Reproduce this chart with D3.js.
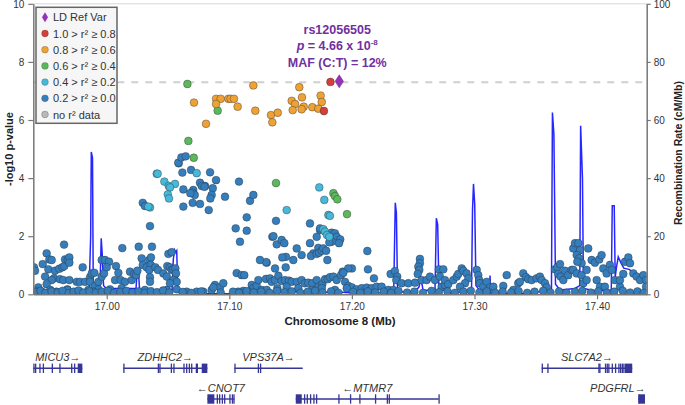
<!DOCTYPE html>
<html><head><meta charset="utf-8">
<script src="https://cdn.jsdelivr.net/npm/d3@7"></script>
<style>
body{margin:0;background:#fff;}
svg{font-family:"Liberation Sans",Arial,sans-serif;}
</style></head><body>
<svg id="c" width="685" height="405"></svg>
<script>
// ---------------- DATA ----------------
const xTicks=[17.0,17.1,17.2,17.3,17.4];
const yTicks=[0,2,4,6,8,10];
const rTicks=[0,20,40,60,80,100];
const xDomain=[16.9401,17.4405];
const leadVar=[17.1897,7.33];
const sigLine=7.301;
const leadName="rs12056505";
const leadP="4.66 x 10";
const leadPexp="-8";
const leadMaf="MAF (C:T) = 12%";

const ldRed=[[17.1825,7.31],[17.1772,6.31]];
const ldOrange=[[17.1196,7.19],[17.1571,7.13],[17.0712,6.60],[17.0892,6.73],[17.0930,6.73],[17.0992,6.73],[17.1011,6.73],[17.1038,6.73],[17.0892,6.55],[17.1068,6.46],[17.1212,6.32],[17.0810,5.87],[17.1340,6.17],[17.1395,6.25],[17.1351,5.92],[17.1509,6.66],[17.1536,6.55],[17.1593,6.78],[17.1607,6.46],[17.1590,6.37],[17.1517,6.34],[17.1677,6.44],[17.1726,6.39],[17.1745,6.84],[17.1754,6.62]];
const ldGreen=[[17.0658,7.24],[17.0905,6.32],[17.0666,5.28],[17.0710,4.70],[17.1381,3.83],[17.1849,3.48],[17.1862,3.38],[17.1881,3.27],[17.1960,2.76]];
const ldCyan=[[17.0734,4.17],[17.1734,3.68],[17.0408,4.15],[17.0415,4.15],[17.0470,3.88],[17.0506,3.73],[17.0557,3.80],[17.0516,3.68],[17.0498,3.44],[17.0508,3.30],[17.1468,2.90],[17.1775,3.25],[17.1808,2.73],[17.1821,2.70],[17.1767,2.24],[17.1780,2.16],[17.1797,2.04],[17.1816,1.98],[17.0353,2.99],[17.0340,3.02]];
const ldBlue=[[17.0587,4.51],[17.0584,4.53],[17.0609,4.71],[17.0644,4.75],[17.0617,4.19],[17.0688,4.28],[17.0843,4.20],[17.0892,3.93],[17.1079,3.88],[17.0761,3.84],[17.0802,3.73],[17.0865,3.65],[17.0625,3.61],[17.0706,3.59],[17.0625,3.02],[17.0701,3.50],[17.0718,3.42],[17.0682,3.48],[17.0701,3.15],[17.0761,3.11],[17.0775,3.73],[17.0797,3.70],[17.0856,3.42],[17.0845,3.30],[17.0832,2.90],[17.0965,3.36],[17.1052,2.27],[17.1087,1.81],[17.1142,2.19],[17.1142,2.65],[17.1169,3.22],[17.1196,3.42],[17.1381,2.53],[17.1351,1.98],[17.1360,2.00],[17.1305,1.09],[17.1387,1.72],[17.1427,1.87],[17.1449,1.76],[17.1462,1.29],[17.1550,1.58],[17.1522,1.18],[17.1658,2.44],[17.1658,1.76],[17.1590,1.35],[17.1685,1.41],[17.1726,1.60],[17.1713,1.98],[17.1740,2.21],[17.1432,1.27],[17.1299,1.11],[17.1373,0.89],[17.1460,0.93],[17.1666,1.32],[17.1713,1.39],[17.1732,1.43],[17.1754,1.50],[17.1767,1.58],[17.1790,1.50],[17.1800,1.18],[17.1740,2.27],[17.1835,2.12],[17.1862,2.10],[17.1876,1.98],[17.1905,1.89],[17.1895,1.76],[17.1835,1.81],[17.1816,1.79],[17.2126,1.49],[17.2131,0.86],[17.2180,0.55],[17.2000,0.89],[17.1925,0.78],[17.1970,0.89],[17.2316,0.70],[17.2351,0.80],[17.2370,0.61],[17.2362,0.49],[17.2555,1.22],[17.2555,1.07],[17.2542,0.95],[17.2550,0.84],[17.2537,0.70],[17.2710,0.86],[17.0294,3.15],[17.0312,3.04],[17.0353,2.35],
[16.9652,1.71],[17.0127,1.59],[17.0261,1.64],[17.0369,1.64],[17.0503,1.39],[17.0530,1.45],[16.9510,1.41],[16.9532,1.20],[16.9551,1.18],[16.9478,1.04],[16.9407,0.93],[16.9415,0.81],[16.9524,0.86],[16.9578,0.81],[16.9613,0.88],[16.9638,0.93],[16.9654,0.97],[16.9660,1.20],[16.9682,1.18],[16.9695,1.27],[16.9695,1.09],[16.9497,0.61],[16.9570,0.55],[16.9551,0.49],[16.9619,0.52],[16.9646,0.49],[16.9695,0.49],[16.9679,0.17],[16.9510,0.35],[16.9442,0.24],[16.9429,0.09],
[16.9804,0.93],[16.9755,0.43],[16.9782,0.43],[16.9823,0.43],[16.9864,0.59],[16.9878,0.72],[16.9899,0.74],[16.9864,0.43],[16.9905,0.29],[16.9932,0.43],[16.9959,0.61],[16.9978,0.72],[16.9959,1.18],[16.9986,1.18],[17.0019,1.12],[17.0000,0.93],[17.0076,0.97],[17.0095,0.74],[17.0068,0.49],[17.0114,0.49],[17.0149,0.43],[17.0190,0.78],[17.0204,0.49],[17.0223,0.70],[17.0239,0.66],[17.0250,0.81],[17.0285,1.24],[17.0294,1.01],[17.0326,0.93],[17.0347,1.18],[17.0361,1.27],[17.0359,1.01],[17.0347,0.84],[17.0353,0.59],[17.0353,0.43],[17.0397,0.93],[17.0418,0.84],[17.0462,0.72],[17.0490,0.61],[17.0494,0.97],[17.0516,0.93],[17.0530,0.84],[17.0543,0.86],[17.0560,0.89],[17.0565,0.72],[17.0543,0.49],[17.0571,0.43],[17.0571,0.17],[17.0490,0.15],[17.0516,0.38],[17.0312,0.15],[17.0122,0.21],[17.0027,0.17],[16.9932,0.17],[16.9890,0.09],[16.9850,0.15],[16.9780,0.09],[16.9680,0.15],[16.9590,0.09],[16.9540,0.15],[16.9470,0.09],
[17.0788,0.09],[17.0856,0.15],[17.0883,0.32],[17.0924,0.24],[17.0951,0.38],[17.0870,0.24],[17.0734,0.09],[17.0652,0.09],
[17.1060,0.73],[17.1101,0.66],[17.1122,0.66],[17.1183,0.32],[17.1196,0.21],[17.1223,0.29],[17.1237,0.49],[17.1264,0.15],[17.1114,0.12],[17.1073,0.09],[17.1155,0.09],[17.1250,1.18],
[17.1299,0.53],[17.1332,0.55],[17.1346,0.43],[17.1373,0.49],[17.1400,0.64],[17.1427,0.46],[17.1454,0.49],[17.1487,0.47],[17.1509,0.43],[17.1550,0.43],[17.1590,0.49],[17.1617,0.38],[17.1644,0.40],[17.1677,0.38],[17.1713,0.49],[17.1726,0.26],[17.1759,0.35],[17.1781,0.52],[17.1803,0.52],[17.1821,0.59],[17.1849,0.61],[17.1876,0.49],[17.1911,0.66],[17.1930,0.74],[17.1944,0.43],[17.1971,0.29],[17.2000,0.24],[17.2039,0.17],[17.2080,0.21],[17.2121,0.23],[17.2162,0.21],[17.2202,0.26],[17.2243,0.26],[17.2297,0.15],[17.2338,0.15],[17.2406,0.38],[17.2460,0.38],[17.2515,0.40],[17.2569,0.49],[17.2610,0.49],[17.2637,0.61],[17.2678,0.49],[17.2732,0.26],[17.2759,0.32],[17.1305,0.15],[17.1392,0.21],[17.1468,0.26],[17.1563,0.21],[17.1672,0.15],[17.1754,0.21],[17.1862,0.15],[17.1958,0.21],
[17.2746,0.86],[17.2718,0.61],[17.2759,0.49],[17.2786,0.35],[17.2827,0.49],[17.2855,0.61],[17.2868,0.70],[17.2896,0.89],[17.2909,0.81],[17.2936,0.72],[17.2950,0.55],[17.2923,0.38],[17.2882,0.26],[17.3018,0.84],[17.3031,0.66],[17.3039,0.49],[17.3045,0.38],[17.3072,0.26],[17.3100,0.43],[17.3127,0.24],[17.3154,0.26],[17.3235,0.29],[17.3263,0.66],[17.3317,0.15],[17.3357,0.38],[17.3371,0.43],[17.3398,0.72],[17.3420,0.59],[17.3439,0.52],[17.3467,0.49],[17.3507,0.55],[17.3534,0.61],[17.3548,0.49],[17.3575,0.38],[17.3589,0.24],[17.3657,0.86],[17.3676,0.93],[17.3698,1.04],[17.3684,0.70],[17.3703,0.61],[17.3725,0.49],[17.3738,0.81],[17.3765,0.66],[17.3793,0.84],[17.3806,1.58],[17.3820,1.76],[17.3847,1.76],[17.3861,1.52],[17.3834,1.35],[17.3855,1.24],[17.3874,1.07],[17.3839,1.12],[17.3806,0.84],[17.3834,0.72],[17.3874,0.66],[17.3915,0.84],[17.3928,1.58],[17.3888,0.38],[17.3915,0.49],[17.3956,1.18],[17.3983,1.09],[17.4018,1.20],[17.4037,1.35],[17.4051,0.89],[17.4078,0.72],[17.4105,1.01],[17.4119,0.84],[17.4146,0.49],[17.4187,0.26],[17.4228,1.12],[17.4255,1.27],[17.4269,1.07],[17.4296,0.72],[17.4323,0.61],[17.4351,0.49],[17.4378,0.66],[17.4400,0.49],[17.4400,0.26],[17.4187,0.49],[17.3997,0.49],[17.4024,0.26],[17.4064,0.26],[17.4214,0.70],
[16.942,0.08],[16.946,0.12],[16.950,0.05],[16.955,0.10],[16.960,0.06],[16.964,0.12],[16.969,0.04],[16.973,0.09],[16.977,0.13],[16.981,0.06],[16.986,0.10],[16.991,0.05],[16.996,0.09],[17.001,0.12],[17.006,0.05],[17.011,0.08],[17.016,0.12],[17.021,0.06],[17.026,0.10],[17.031,0.05],[17.036,0.11],[17.041,0.07],[17.046,0.13],[17.051,0.06],[17.062,0.08],[17.069,0.05],[17.077,0.10],[17.093,0.06],[17.103,0.09],[17.108,0.05],[17.114,0.11],[17.120,0.06],[17.126,0.09],[17.133,0.05],[17.139,0.12],[17.145,0.07],[17.151,0.10],[17.158,0.05],[17.164,0.09],[17.170,0.12],[17.176,0.06],[17.183,0.10],[17.189,0.05],[17.201,0.08],[17.207,0.05],[17.213,0.10],[17.219,0.06],[17.226,0.09],[17.232,0.05],[17.238,0.11],[17.245,0.06],[17.251,0.09],[17.258,0.05],[17.265,0.12],[17.271,0.07],[17.278,0.10],[17.284,0.05],[17.291,0.09],[17.297,0.12],[17.304,0.06],[17.310,0.10],[17.317,0.05],[17.323,0.09],[17.330,0.06],[17.336,0.11],[17.343,0.05],[17.349,0.09],[17.356,0.12],[17.362,0.06],[17.369,0.10],[17.375,0.05],[17.382,0.09],[17.388,0.12],[17.395,0.06],[17.401,0.10],[17.408,0.05],[17.414,0.09],[17.421,0.12],[17.427,0.06],[17.433,0.10],[17.438,0.05]];

const recomb=[[16.9401,0.8],[16.9497,0.6],[16.9619,0.8],[16.9668,1.0],[16.9692,2.2],[16.9717,1.2],[16.9782,1.0],[16.9856,1.2],[16.9869,20],[16.9874,49],[16.9884,47],[16.9890,3],[16.9905,2.2],[16.9945,1.8],[16.9955,19.3],[16.9963,14],[16.9974,3],[16.9994,2.0],[17.0108,2.0],[17.0239,2.0],[17.0250,9],[17.0259,8],[17.0268,1.5],[17.0533,1.5],[17.0543,12],[17.0553,15.3],[17.0563,14.5],[17.0571,15],[17.0580,1],[17.0598,0.2],[17.1169,0.2],[17.1250,0.9],[17.1414,0.7],[17.1577,1.0],[17.1740,0.5],[17.1862,1.0],[17.1944,0.6],[17.2068,0.4],[17.2229,0.5],[17.2341,0.8],[17.2354,31.5],[17.2363,28],[17.2372,2.5],[17.2392,0.8],[17.2515,1],[17.2547,2.5],[17.2564,5.5],[17.2580,1.5],[17.2678,1.2],[17.2689,26.2],[17.2700,24],[17.2710,2],[17.2800,0.6],[17.2976,1],[17.2984,29],[17.2992,38],[17.3002,31],[17.3012,3],[17.3045,1.2],[17.3121,0.5],[17.3127,6.5],[17.3132,0.5],[17.3290,0.3],[17.3453,0.4],[17.3628,1.5],[17.3636,62.6],[17.3648,55],[17.3661,3.5],[17.3698,1.5],[17.3820,2],[17.3859,3],[17.3866,58],[17.3881,40],[17.3889,2],[17.3983,1.2],[17.4116,1.5],[17.4124,30.5],[17.4140,30.5],[17.4148,6],[17.4161,10],[17.4173,12.9],[17.4193,11],[17.4218,9],[17.4267,8.5],[17.4308,5.5],[17.4405,4]];

const genes=[
 {name:"MICU3",strand:"+",row:0,start:16.9401,end:16.9801,exons:[[16.9401,16.9403],[16.9415,16.9417],[16.9450,16.9452],[16.9478,16.9480],[16.9551,16.9555],[16.9613,16.9615],[16.9709,16.9711],[16.9733,16.9735],[16.9763,16.9765],[16.9772,16.9801]]},
 {name:"ZDHHC2",strand:"+",row:0,start:17.0135,end:17.0821,exons:[[17.0135,17.0137],[17.0416,17.0418],[17.0429,17.0431],[17.0522,17.0524],[17.0543,17.0545],[17.0625,17.0627],[17.0647,17.0649],[17.0669,17.0671],[17.0688,17.0690],[17.0726,17.0728],[17.0734,17.0736],[17.0775,17.0821]]},
 {name:"VPS37A",strand:"+",row:0,start:17.1041,end:17.1599,exons:[[17.1041,17.1043],[17.1232,17.1234],[17.1250,17.1252]]},
 {name:"CNOT7",strand:"-",row:1,start:17.0821,end:17.1041,exons:[[17.0821,17.0878],[17.0897,17.0899],[17.0916,17.0918],[17.0938,17.0940],[17.0957,17.0959],[17.1000,17.1002],[17.1020,17.1022],[17.1033,17.1035]]},
 {name:"MTMR7",strand:"-",row:1,start:17.1542,end:17.2708,exons:[[17.1542,17.1591],[17.1609,17.1611],[17.1631,17.1633],[17.1658,17.1660],[17.1685,17.1687],[17.1707,17.1709],[17.1889,17.1891],[17.1984,17.1986],[17.2060,17.2062],[17.2188,17.2190],[17.2284,17.2286],[17.2300,17.2302],[17.2706,17.2708]]},
 {name:"SLC7A2",strand:"+",row:0,start:17.3548,end:17.4287,exons:[[17.3548,17.3550],[17.3594,17.3596],[17.4010,17.4013],[17.4018,17.4020],[17.4064,17.4066],[17.4078,17.4080],[17.4091,17.4093],[17.4119,17.4121],[17.4146,17.4148],[17.4173,17.4175],[17.4187,17.4189],[17.4201,17.4203],[17.4214,17.4216],[17.4228,17.4287]]},
 {name:"PDGFRL",strand:"+",row:1,start:17.4336,end:17.4391,exons:[[17.4336,17.4338],[17.4340,17.4391]]}
];

const legendLabels=["LD Ref Var","1.0 > r\u00B2 \u2265 0.8","0.8 > r\u00B2 \u2265 0.6","0.6 > r\u00B2 \u2265 0.4","0.4 > r\u00B2 \u2265 0.2","0.2 > r\u00B2 \u2265 0.0","no r\u00B2 data"];
const legendColors=["#9632b8","#d43f3a","#eea236","#5cb85c","#46b8da","#357ebd","#b8b8b8"];

// ---------------- CHART ----------------
const svg=d3.select("#c");
const P={l:33.3,r:646.7,t:3.8,b:294.3};
const x=d3.scaleLinear().domain(xDomain).range([P.l,P.r]);
const y=d3.scaleLinear().domain([0,10]).range([P.b,P.t]);
const yr=d3.scaleLinear().domain([0,100]).range([P.b,P.t]);
const axisCol="#777", txtCol="#333";

svg.append("defs").append("clipPath").attr("id","clip").append("rect")
  .attr("x",P.l).attr("y",P.t-8).attr("width",P.r-P.l).attr("height",P.b-P.t+8);

svg.append("line").attr("x1",P.l).attr("x2",P.r).attr("y1",P.t).attr("y2",P.t)
  .attr("stroke","#d8d8d8").attr("stroke-width",1);

svg.append("line").attr("x1",P.l).attr("x2",P.r).attr("y1",y(sigLine)).attr("y2",y(sigLine))
  .attr("stroke","#cfcfcf").attr("stroke-width",2).attr("stroke-dasharray","7,7");

const plot=svg.append("g").attr("clip-path","url(#clip)");
plot.append("path").datum(recomb)
  .attr("d",d3.line().x(d=>x(d[0])).y(d=>yr(d[1])))
  .attr("fill","none").attr("stroke","#0000ff").attr("stroke-opacity",0.85).attr("stroke-width",1.5);

function drawPts(data,color){
  plot.append("g").selectAll("circle").data(data).join("circle")
   .attr("cx",d=>x(d[0])).attr("cy",d=>y(d[1])).attr("r",3.9)
   .attr("fill",color).attr("stroke","#2a2a2a").attr("stroke-opacity",0.55).attr("stroke-width",0.7);
}
drawPts(ldBlue,legendColors[5]);
drawPts(ldCyan,legendColors[4]);
drawPts(ldGreen,legendColors[3]);
drawPts(ldOrange,legendColors[2]);
drawPts(ldRed,legendColors[1]);

svg.append("path").attr("d","M0,-6.5L4.2,0L0,6.5L-4.2,0Z")
  .attr("transform",`translate(${x(leadVar[0])},${y(leadVar[1])})`)
  .attr("fill",legendColors[0]).attr("stroke","#6a1f8a").attr("stroke-width",0.5);

function styleAxis(g){
  g.selectAll(".domain").attr("stroke",axisCol).attr("stroke-width",1.5);
  g.selectAll(".tick line").attr("stroke",axisCol).attr("stroke-width",1.2);
  g.selectAll(".tick text").attr("fill",txtCol).attr("font-size","10px")
    .attr("font-family","'Liberation Sans',Arial,sans-serif");
}
svg.append("g").attr("transform",`translate(0,${P.b})`)
  .call(d3.axisBottom(x).tickValues(xTicks).tickFormat(d3.format(".2f")).tickSize(5).tickPadding(4).tickSizeOuter(0))
  .call(styleAxis);
svg.append("g").attr("transform",`translate(${P.l},0)`)
  .call(d3.axisLeft(y).tickValues(yTicks).tickSize(5).tickPadding(4).tickSizeOuter(0))
  .call(styleAxis);
svg.append("g").attr("transform",`translate(${P.r},0)`)
  .call(d3.axisRight(yr).tickValues(rTicks).tickSize(4).tickPadding(3).tickSizeOuter(0))
  .call(styleAxis);

svg.append("text").attr("x",(P.l+P.r)/2).attr("y",325).attr("text-anchor","middle")
  .attr("font-size","11.5px").attr("font-weight","bold").attr("fill","#222").text("Chromosome 8 (Mb)");
svg.append("text").attr("transform",`translate(13,${(P.t+P.b)/2}) rotate(-90)`).attr("text-anchor","middle")
  .attr("font-size","11px").attr("font-weight","bold").attr("fill","#222").text("-log10 p-value");
svg.append("text").attr("transform",`translate(682,${(P.t+P.b)/2+4}) rotate(-90)`).attr("text-anchor","middle")
  .attr("font-size","10.5px").attr("font-weight","bold").attr("fill","#222").text("Recombination Rate (cM/Mb)");

const ann=svg.append("g").attr("fill","#7030a0").attr("font-weight","bold").attr("font-size","12.5px").attr("text-anchor","middle");
const ax=x(leadVar[0])-2;
ann.append("text").attr("x",ax).attr("y",33.5).text(leadName);
const pt=ann.append("text").attr("x",ax).attr("y",50);
pt.append("tspan").attr("font-style","italic").text("p");
pt.append("tspan").text(" = "+leadP);
pt.append("tspan").attr("font-size","8px").attr("dy","-5").text(leadPexp);
ann.append("text").attr("x",ax).attr("y",67).text(leadMaf);

const lg=svg.append("g");
lg.append("rect").attr("x",36).attr("y",7.3).attr("width",81).attr("height",116)
  .attr("fill","#f6f6f6").attr("stroke","#666").attr("stroke-width",1.5);
legendLabels.forEach((t,i)=>{
  const cy=17.3+i*16.2;
  if(i===0){
    lg.append("path").attr("d","M0,-5L3,0L0,5L-3,0Z").attr("transform",`translate(45,${cy})`).attr("fill",legendColors[0]);
  } else {
    lg.append("circle").attr("cx",45).attr("cy",cy).attr("r",3.4).attr("fill",legendColors[i])
      .attr("stroke","#2a2a2a").attr("stroke-opacity",0.4).attr("stroke-width",0.6);
  }
  lg.append("text").attr("x",53).attr("y",cy+4).attr("font-size","11px").attr("fill","#333").text(t);
});

const geneCol="#363696";
const rowY=[368.3,399], labY=[360.5,391.5];
const gg=svg.append("g");
genes.forEach(g=>{
  const yy=rowY[g.row];
  gg.append("line").attr("x1",x(g.start)).attr("x2",x(g.end)).attr("y1",yy).attr("y2",yy)
    .attr("stroke",geneCol).attr("stroke-width",1.4);
  g.exons.forEach(e=>{
    const x0=x(e[0]), w=Math.max(1.3,x(e[1])-x(e[0]));
    gg.append("rect").attr("x",x0).attr("y",yy-4.7).attr("width",w).attr("height",9.4).attr("fill",geneCol);
  });
  const label=g.strand==="+"?g.name+"\u2192":"\u2190"+g.name;
  const t=gg.append("text").attr("y",labY[g.row]).attr("font-size","11px").attr("font-style","italic")
    .attr("fill","#333").attr("text-anchor","middle").text(label);
  const w=t.node().getComputedTextLength();
  let cx=(x(g.start)+x(g.end))/2;
  cx=Math.min(cx,P.r-1-w/2); cx=Math.max(cx,P.l+w/2);
  t.attr("x",cx);
});
</script>
</body></html>
